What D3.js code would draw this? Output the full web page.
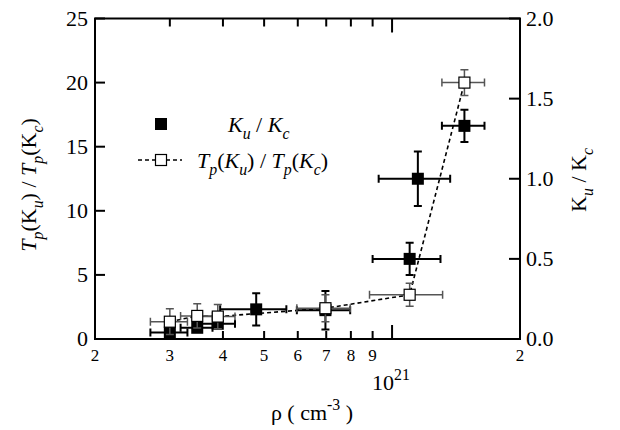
<!DOCTYPE html>
<html>
<head>
<meta charset="utf-8">
<script src="https://cdn.jsdelivr.net/npm/d3@7"></script>
<style>
body { margin: 0; }
text, tspan { font-family: "Times New Roman", "Liberation Serif", Tinos, serif !important; }
</style>
</head>
<body>
<svg width="620" height="430"></svg>
<script>
// density in units of 1e20 cm^-3
const rhoK = [3.0, 3.48, 3.89, 4.79, 6.97, 11.0, 11.5, 14.8]
const rhoKErr = [0.3, 0.3, 0.38, 0.85, 1.0, 2.0, 2.2, 1.7]
const kRatio = [0.04, 0.07, 0.095, 0.185, 0.18, 0.50, 1.0, 1.33]
const kRatioErr = [0.02, 0.02, 0.02, 0.1, 0.12, 0.1, 0.17, 0.1]

const rhoT = [3.0, 3.48, 3.89, 6.97, 11.0, 14.8]
const rhoTErr = [0.3, 0.3, 0.38, 1.0, 2.15, 1.7]
const tRatio = [1.35, 1.8, 1.75, 2.4, 3.45, 20.0]
const tRatioErr = [1.0, 0.95, 0.95, 1.05, 0.9, 1.0]

const xTicks = [2, 3, 4, 5, 6, 7, 8, 9, 10, 20]
const xTickLabels = ["2", "3", "4", "5", "6", "7", "8", "9", "", "2"]
const yLeftTicks = [0, 5, 10, 15, 20, 25]
const yRightTicks = [0, 0.5, 1.0, 1.5, 2.0]

const svg = d3.select("svg")

const pLeft = 95, pRight = 520, pTop = 18.5, pBottom = 339

const x = d3.scaleLog().domain([2, 20]).range([pLeft, pRight])
const yL = d3.scaleLinear().domain([0, 25]).range([pBottom, pTop])
const yR = d3.scaleLinear().domain([0, 2]).range([pBottom, pTop])

function addText(x0, y0, size) {
    return svg.append("text")
        .attr("x", x0).attr("y", y0)
        .attr("font-size", size)
        .attr("font-family", "Times New Roman")
}

// frame and ticks
const tickLen = d => d === 10 ? 14 : 8

svg.append("g").selectAll("line").data(xTicks).join("line")
    .attr("x1", d => x(d)).attr("x2", d => x(d))
    .attr("y1", pBottom).attr("y2", d => pBottom - tickLen(d))
    .attr("stroke", "#000").attr("stroke-width", 2)
svg.append("g").selectAll("line").data(xTicks).join("line")
    .attr("x1", d => x(d)).attr("x2", d => x(d))
    .attr("y1", pTop).attr("y2", d => pTop + tickLen(d))
    .attr("stroke", "#000").attr("stroke-width", 2)
svg.append("g").selectAll("line").data(yLeftTicks).join("line")
    .attr("x1", pLeft).attr("x2", pLeft + 10)
    .attr("y1", d => yL(d)).attr("y2", d => yL(d))
    .attr("stroke", "#000").attr("stroke-width", 2)
svg.append("g").selectAll("line").data(yRightTicks).join("line")
    .attr("x1", pRight - 11).attr("x2", pRight)
    .attr("y1", d => yR(d)).attr("y2", d => yR(d))
    .attr("stroke", "#000").attr("stroke-width", 2)

svg.append("rect")
    .attr("x", pLeft).attr("y", pTop)
    .attr("width", pRight - pLeft).attr("height", pBottom - pTop)
    .attr("fill", "none").attr("stroke", "#000").attr("stroke-width", 2)

// tick labels
xTicks.forEach((d, i) => {
    if (xTickLabels[i]) addText(x(d), pBottom + 22, 17).attr("text-anchor", "middle").text(xTickLabels[i])
})
yLeftTicks.forEach(d => {
    addText(pLeft - 7, yL(d) + 7, 22).attr("text-anchor", "end").text(d)
})
yRightTicks.forEach(d => {
    addText(pRight + 6, yR(d) + 7, 22).text(d3.format(".1f")(d))
})

// text with sub/superscripts; shift is undone on the following part
function rich(sel, parts, size) {
    const small = size * 0.72
    let carry = 0
    parts.forEach(p => {
        const t = sel.append("tspan").text(p.t)
        if (p.it) t.attr("font-style", "italic")
        let shift = 0
        if (p.sub) shift = size * 0.3
        if (p.sup) shift = -size * 0.45
        if (shift) t.attr("font-size", small)
        const dy = carry + shift
        if (dy) t.attr("dy", dy)
        carry = -shift
    })
    return sel
}

// axis titles
rich(addText(372, 390, 22), [{t: "10"}, {t: "21", sup: true}], 22)

rich(addText(312, 420, 22).attr("text-anchor", "middle"),
    [{t: "\u03c1 ( cm"}, {t: "-3", sup: true}, {t: " )"}], 22)

rich(addText(0, 0, 22).attr("transform", "translate(36,185) rotate(-90)").attr("text-anchor", "middle"),
    [{t: "T", it: true}, {t: "p", sub: true, it: true}, {t: "(K"}, {t: "u", sub: true, it: true},
    {t: ") / "}, {t: "T", it: true}, {t: "p", sub: true, it: true}, {t: "(K"}, {t: "c", sub: true, it: true}, {t: ")"}], 22)

rich(addText(0, 0, 22).attr("transform", "translate(586,180) rotate(-90)").attr("text-anchor", "middle"),
    [{t: "K"}, {t: "u", sub: true, it: true}, {t: " / K"}, {t: "c", sub: true, it: true}], 22)

const filled = rhoK.map((r, i) => ({r, dr: rhoKErr[i], v: kRatio[i], dv: kRatioErr[i]}))
const open = rhoT.map((r, i) => ({r, dr: rhoTErr[i], v: tRatio[i], dv: tRatioErr[i]}))

function errorBars(data, y, color, width) {
    const g = svg.append("g").attr("stroke", color).attr("stroke-width", width).attr("fill", "none")
    const cap = 4
    data.forEach(d => {
        const cx = x(d.r), cy = y(d.v)
        const x0 = x(d.r - d.dr), x1 = x(d.r + d.dr)
        const y0 = y(d.v - d.dv), y1 = y(d.v + d.dv)
        g.append("path").attr("d",
            `M${x0},${cy}H${x1}M${x0},${cy - cap}V${cy + cap}M${x1},${cy - cap}V${cy + cap}` +
            `M${cx},${y0}V${y1}M${cx - cap},${y0}H${cx + cap}M${cx - cap},${y1}H${cx + cap}`)
    })
}

errorBars(filled, yR, "#000", 2)

const line = d3.line().x(d => x(d.r)).y(d => yL(d.v))
svg.append("path").datum(open)
    .attr("d", line)
    .attr("fill", "none").attr("stroke", "#000")
    .attr("stroke-width", 1.6).attr("stroke-dasharray", "4,3")

svg.append("g").selectAll("rect").data(filled).join("rect")
    .attr("x", d => x(d.r) - 6).attr("y", d => yR(d.v) - 6)
    .attr("width", 12).attr("height", 12).attr("fill", "#000")

errorBars(open, yL, "#555", 1.5)

svg.append("g").selectAll("rect").data(open).join("rect")
    .attr("x", d => x(d.r) - 5.5).attr("y", d => yL(d.v) - 5.5)
    .attr("width", 11).attr("height", 11)
    .attr("fill", "#fff").attr("stroke", "#000").attr("stroke-width", 1.2)

// legend
svg.append("rect").attr("x", 155).attr("y", 118).attr("width", 12).attr("height", 12).attr("fill", "#000")
rich(addText(228, 132, 22),
    [{t: "K", it: true}, {t: "u", sub: true, it: true}, {t: " / "}, {t: "K", it: true}, {t: "c", sub: true, it: true}], 22)

svg.append("line").attr("x1", 138).attr("x2", 182).attr("y1", 160).attr("y2", 160)
    .attr("stroke", "#000").attr("stroke-width", 1.6).attr("stroke-dasharray", "4,3")
svg.append("rect").attr("x", 155.5).attr("y", 154.5).attr("width", 11).attr("height", 11)
    .attr("fill", "#fff").attr("stroke", "#000").attr("stroke-width", 1.2)
rich(addText(197, 168, 22),
    [{t: "T", it: true}, {t: "p", sub: true, it: true}, {t: "("}, {t: "K", it: true}, {t: "u", sub: true, it: true},
    {t: ") / "}, {t: "T", it: true}, {t: "p", sub: true, it: true}, {t: "("}, {t: "K", it: true}, {t: "c", sub: true, it: true}, {t: ")"}], 22)
</script>
</body>
</html>
